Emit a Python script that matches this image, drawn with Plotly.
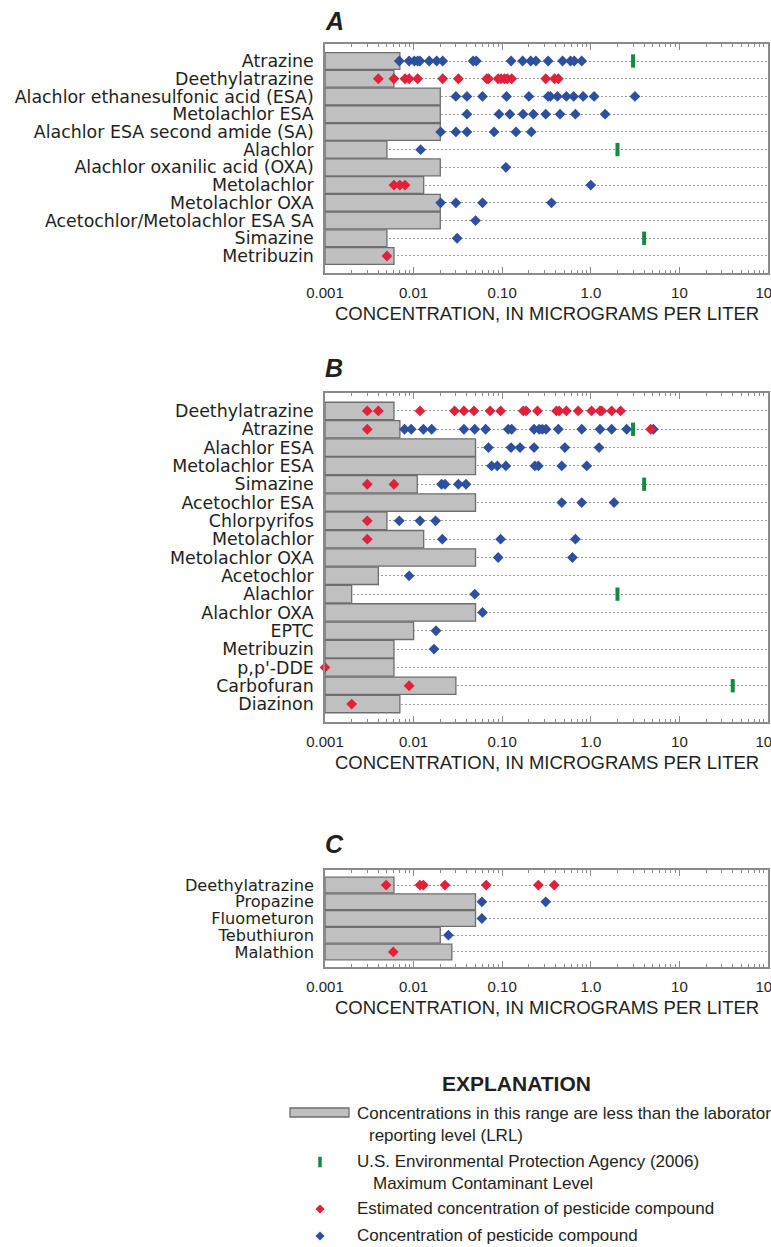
import math
import plotly.graph_objects as go

W, H = 771, 1247
AXMIN = 0.001

# ---------------- Panel A ----------------
A_CATS = ["Atrazine", "Deethylatrazine", "Alachlor ethanesulfonic acid (ESA)",
          "Metolachlor ESA", "Alachlor ESA second amide (SA)", "Alachlor",
          "Alachlor oxanilic acid (OXA)", "Metolachlor", "Metolachlor OXA",
          "Acetochlor/Metolachlor ESA SA", "Simazine", "Metribuzin"]
A_LRL = [0.007, 0.006, 0.02, 0.02, 0.02, 0.005, 0.02, 0.013, 0.02, 0.02, 0.005, 0.006]
A_EST = {
    "Deethylatrazine": [0.0040, 0.0060, 0.0080, 0.0089, 0.0111, 0.0213, 0.032, 0.067, 0.070,
                        0.090, 0.097, 0.106, 0.114, 0.128, 0.31, 0.39, 0.43],
    "Metolachlor": [0.0060, 0.0070, 0.0080],
    "Metribuzin": [0.0050],
}
A_DET = {
    "Atrazine": [0.0069, 0.0089, 0.0102, 0.0111, 0.0118, 0.0150, 0.0182, 0.0213, 0.047, 0.051,
                 0.126, 0.170, 0.21, 0.24, 0.33, 0.48, 0.59, 0.65, 0.79],
    "Alachlor ethanesulfonic acid (ESA)": [0.030, 0.040, 0.060, 0.112, 0.20, 0.33, 0.35, 0.42,
                                           0.53, 0.64, 0.82, 1.09, 3.15],
    "Metolachlor ESA": [0.040, 0.092, 0.122, 0.172, 0.225, 0.31, 0.45, 0.67, 1.45],
    "Alachlor ESA second amide (SA)": [0.0202, 0.030, 0.040, 0.081, 0.143, 0.213],
    "Alachlor": [0.012],
    "Alachlor oxanilic acid (OXA)": [0.11],
    "Metolachlor": [1.0],
    "Metolachlor OXA": [0.0202, 0.030, 0.060, 0.36],
    "Acetochlor/Metolachlor ESA SA": [0.050],
    "Simazine": [0.031],
}
A_MCL = {"Atrazine": 3, "Alachlor": 2, "Simazine": 4}

# ---------------- Panel B ----------------
B_CATS = ["Deethylatrazine", "Atrazine", "Alachlor ESA", "Metolachlor ESA", "Simazine",
          "Acetochlor ESA", "Chlorpyrifos", "Metolachlor", "Metolachlor OXA", "Acetochlor",
          "Alachlor", "Alachlor OXA", "EPTC", "Metribuzin", "p,p'-DDE", "Carbofuran", "Diazinon"]
B_LRL = [0.006, 0.007, 0.05, 0.05, 0.011, 0.05, 0.005, 0.013, 0.05, 0.004, 0.002, 0.05,
         0.01, 0.006, 0.006, 0.03, 0.007]
B_EST = {
    "Deethylatrazine": [0.0030, 0.0040, 0.0118, 0.029, 0.037, 0.048, 0.073, 0.096, 0.173, 0.186,
                        0.25, 0.41, 0.44, 0.53, 0.72, 1.02, 1.27, 1.33, 1.72, 2.17],
    "Atrazine": [0.0030, 4.74],
    "Simazine": [0.0030, 0.0060],
    "Chlorpyrifos": [0.0030],
    "Metolachlor": [0.0030],
    "p,p'-DDE": [0.001],
    "Carbofuran": [0.0089],
    "Diazinon": [0.002],
}
B_DET = {
    "Atrazine": [0.0079, 0.0094, 0.0129, 0.016, 0.037, 0.049, 0.065, 0.117, 0.128, 0.229, 0.262,
                 0.284, 0.312, 0.43, 0.79, 1.27, 1.72, 2.54, 5.08],
    "Alachlor ESA": [0.070, 0.126, 0.159, 0.229, 0.51, 1.24],
    "Metolachlor ESA": [0.076, 0.088, 0.110, 0.234, 0.256, 0.47, 0.90],
    "Simazine": [0.0207, 0.0226, 0.032, 0.039],
    "Acetochlor ESA": [0.47, 0.79, 1.83],
    "Chlorpyrifos": [0.0069, 0.0118, 0.0177],
    "Metolachlor": [0.0211, 0.096, 0.67],
    "Metolachlor OXA": [0.090, 0.62],
    "Acetochlor": [0.0089],
    "Alachlor": [0.049],
    "Alachlor OXA": [0.060],
    "EPTC": [0.0179],
    "Metribuzin": [0.017],
}
B_MCL = {"Atrazine": 3, "Simazine": 4, "Alachlor": 2, "Carbofuran": 40}

# ---------------- Panel C ----------------
C_CATS = ["Deethylatrazine", "Propazine", "Fluometuron", "Tebuthiuron", "Malathion"]
C_LRL = [0.006, 0.05, 0.05, 0.02, 0.027]
C_EST = {
    "Deethylatrazine": [0.0049, 0.0118, 0.0129, 0.0226, 0.066, 0.256, 0.387],
    "Malathion": [0.0059],
}
C_DET = {
    "Propazine": [0.059, 0.31],
    "Fluometuron": [0.059],
    "Tebuthiuron": [0.0247],
}
C_MCL = {}

TICK_VALS = [0.001, 0.01, 0.1, 1, 10, 100]
TICK_TEXT = ["0.001", "0.01", "0.10", "1.0", "10", "100"]
X_TITLE = "CONCENTRATION, IN MICROGRAMS PER LITER"

# ---------------- styles ----------------
TXT = "#231f20"
GRAY = "#c0c0c0"
EDGE = "#6e6e6e"
RED = "#e2203a"
BLUE = "#2d4fa0"
GREEN = "#118a43"
AXC = "#8a8a8a"
TICK_FONT = dict(family="Liberation Sans, Arial", size=15, color=TXT)

panels = [
    dict(cats=A_CATS, lrl=A_LRL, est=A_EST, det=A_DET, mcl=A_MCL,
         top=44, bottom=273, pad=0.96, bw=0.95, letter="A", ly=21, fs=17.4),
    dict(cats=B_CATS, lrl=B_LRL, est=B_EST, det=B_DET, mcl=B_MCL,
         top=393, bottom=722, pad=0.98, bw=0.95, letter="B", ly=368, fs=17.4),
    dict(cats=C_CATS, lrl=C_LRL, est=C_EST, det=C_DET, mcl=C_MCL,
         top=870, bottom=967, pad=0.9, bw=0.94, letter="C", ly=844, fs=16.2),
]

X0, X1 = 325, 768


def fx(px):
    return px / W


def fy(py):
    return 1 - py / H


minor_vals = [m * 10 ** e for e in range(-3, 2) for m in range(2, 10)]

fig = go.Figure()
layout = dict(width=W, height=H, margin=dict(l=0, r=0, t=0, b=0, pad=0, autoexpand=False),
              paper_bgcolor="white", plot_bgcolor="rgba(0,0,0,0)", showlegend=False,
              font=dict(family="Liberation Sans, Arial", color=TXT))
annotations = []
shapes = []

for i, p in enumerate(panels, start=1):
    xa = "x" if i == 1 else f"x{i}"
    ya = "y" if i == 1 else f"y{i}"
    cats = p["cats"]
    n = len(cats)
    fig.add_trace(go.Bar(
        y=cats, x=[v - AXMIN for v in p["lrl"]], base=[AXMIN] * n, orientation="h",
        width=p["bw"], marker=dict(color=GRAY, line=dict(color=EDGE, width=1.3)),
        xaxis=xa, yaxis=ya, hoverinfo="skip"))
    # detected (blue)
    xs, ys = [], []
    for c, vals in p["det"].items():
        xs += vals
        ys += [c] * len(vals)
    fig.add_trace(go.Scatter(x=xs, y=ys, mode="markers", xaxis=xa, yaxis=ya, cliponaxis=False,
                             marker=dict(symbol="diamond", size=8.3, color=BLUE, line=dict(width=0))))
    # estimated (red)
    xs, ys = [], []
    for c, vals in p["est"].items():
        xs += vals
        ys += [c] * len(vals)
    fig.add_trace(go.Scatter(x=xs, y=ys, mode="markers", xaxis=xa, yaxis=ya, cliponaxis=False,
                             marker=dict(symbol="diamond", size=8.3, color=RED, line=dict(width=0))))
    # MCL (green)
    if p["mcl"]:
        fig.add_trace(go.Scatter(x=list(p["mcl"].values()), y=list(p["mcl"].keys()), mode="markers",
                                 xaxis=xa, yaxis=ya, cliponaxis=False,
                                 marker=dict(symbol="line-ns", size=9.5, color=GREEN,
                                             line=dict(color=GREEN, width=4))))

    xkey = "xaxis" if i == 1 else f"xaxis{i}"
    ykey = "yaxis" if i == 1 else f"yaxis{i}"
    layout[xkey] = dict(
        type="log", range=[-3, 2], domain=[fx(X0), fx(X1)], anchor=ya, automargin=False,
        tickmode="array", tickvals=TICK_VALS, ticktext=TICK_TEXT, ticklabeloverflow="allow",
        ticks="inside", ticklen=6, tickwidth=1, tickcolor=AXC,
        minor=dict(tickmode="array", tickvals=minor_vals, ticks="inside", ticklen=3.5,
                   tickwidth=1, tickcolor=AXC, showgrid=False),
        showline=True, linecolor=AXC, linewidth=1.5, mirror="allticks",
        showgrid=False, zeroline=False, tickfont=TICK_FONT, ticklabelstandoff=5,
        fixedrange=True)
    layout[ykey] = dict(
        type="category", categoryorder="array", categoryarray=cats,
        tickmode="array", tickvals=cats, ticktext=cats, ticklabeloverflow="allow",
        range=[n - 1 + p["pad"], -p["pad"]], autorange=False, automargin=False,
        domain=[fy(p["bottom"]), fy(p["top"])], anchor=xa,
        showline=True, linecolor=AXC, linewidth=1.5, mirror=True, ticks="",
        showgrid=True, gridcolor="#9a9a9a", gridwidth=1, griddash="2px,2px",
        zeroline=False, tickfont=dict(family="DejaVu Sans", size=p["fs"], color=TXT),
        ticklabelstandoff=6, fixedrange=True)

    annotations.append(dict(text="<b><i>%s</i></b>" % p["letter"], xref="paper", yref="paper",
                            x=fx(X0 - 2), y=fy(p["ly"]), xanchor="left", yanchor="middle",
                            showarrow=False, font=dict(family="Liberation Sans, Arial", size=25, color=TXT)))
    annotations.append(dict(text=X_TITLE, xref="paper", yref="paper",
                            x=fx(546.5), y=fy(p["bottom"] + 40), xanchor="center",
                            yanchor="middle", showarrow=False,
                            font=dict(family="Liberation Sans, Arial", size=18.5, color=TXT)))

# ---------------- Explanation (legend) ----------------
layout["xaxis4"] = dict(domain=[0, 1], range=[0, W], visible=False, anchor="y4", fixedrange=True,
                        automargin=False)
layout["yaxis4"] = dict(domain=[0, 1], range=[H, 0], visible=False, anchor="x4", fixedrange=True,
                        automargin=False)

LEG_X = 320
fig.add_trace(go.Scatter(x=[LEG_X], y=[1162], mode="markers", xaxis="x4", yaxis="y4", cliponaxis=False,
                         marker=dict(symbol="line-ns", size=7.5, color=GREEN, line=dict(color=GREEN, width=3.5))))
fig.add_trace(go.Scatter(x=[LEG_X, ], y=[1209], mode="markers", xaxis="x4", yaxis="y4", cliponaxis=False,
                         marker=dict(symbol="diamond", size=7, color=RED, line=dict(width=0))))
fig.add_trace(go.Scatter(x=[LEG_X], y=[1236], mode="markers", xaxis="x4", yaxis="y4", cliponaxis=False,
                         marker=dict(symbol="diamond", size=7, color=BLUE, line=dict(width=0))))
shapes.append(dict(type="rect", xref="x4", yref="y4", x0=290, x1=349, y0=1108, y1=1117,
                   fillcolor=GRAY, line=dict(color=EDGE, width=1.3)))

annotations.append(dict(text="<b>EXPLANATION</b>", xref="paper", yref="paper", x=fx(516), y=fy(1083),
                        xanchor="center", yanchor="middle", showarrow=False,
                        font=dict(family="Liberation Sans Narrow, Liberation Sans, Arial", size=21, color=TXT)))
LEG_LINES = [
    ("Concentrations in this range are less than the laboratory", 355, 1113),
    ("reporting level (LRL)", 367, 1135),
    ("U.S. Environmental Protection Agency (2006)", 355, 1161),
    ("Maximum Contaminant Level", 371, 1183),
    ("Estimated concentration of pesticide compound", 355, 1208),
    ("Concentration of pesticide compound", 355, 1235),
]
for t, x, y in LEG_LINES:
    annotations.append(dict(text=t, xref="paper", yref="paper", x=fx(x), y=fy(y),
                            xanchor="left", yanchor="middle", showarrow=False,
                            font=dict(family="Liberation Sans, Arial", size=17, color=TXT)))

layout["annotations"] = annotations
layout["shapes"] = shapes
fig.update_layout(**layout)

fig.write_html("out.html", config={"displayModeBar": False},
               post_script="document.body.style.margin='0px';")
